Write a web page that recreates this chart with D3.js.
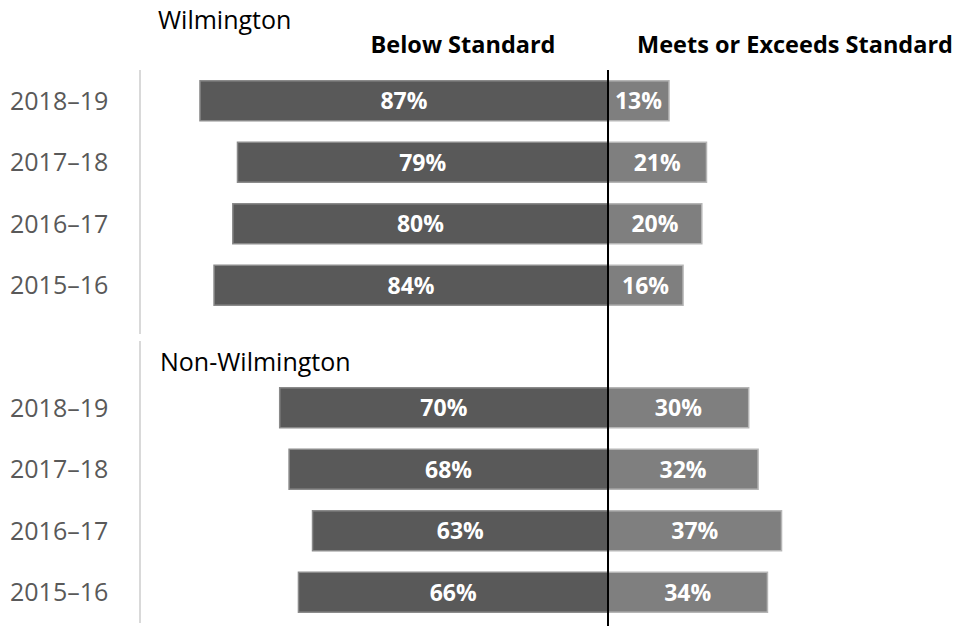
<!DOCTYPE html>
<html>
<head>
<meta charset="utf-8">
<script src="https://cdn.jsdelivr.net/npm/d3@7"></script>
<style>
body { margin: 0; background: #fff; }
text { font-family: "Open Sans", "Noto Sans", sans-serif; }
</style>
</head>
<body>
<div id="canvas"></div>
<script>
var width = 968,
	height = 626;

// data
var years = ["2018–19", "2017–18", "2016–17", "2015–16"];
var groups = ["Wilmington", "Non-Wilmington"];
var wilmBelow = [87, 79, 80, 84];
var wilmMeets = [13, 21, 20, 16];
var nonBelow = [70, 68, 63, 66];
var nonMeets = [30, 32, 37, 34];

var rows = [];
years.forEach(function(y, i){
	rows.push({key: "w" + i, group: groups[0], year: y, below: wilmBelow[i], meets: wilmMeets[i]});
});
years.forEach(function(y, i){
	rows.push({key: "n" + i, group: groups[1], year: y, below: nonBelow[i], meets: nonMeets[i]});
});

var svg = d3.select("#canvas").append("svg")
	.attr("width", width)
	.attr("height", height);

var x = d3.scaleLinear()
	.domain([-100, 100])
	.range([608 - 469, 608 + 469]);

// two bands, one per group
var yW = d3.scaleBand()
	.domain(rows.slice(0, 4).map(function(d){ return d.key; }))
	.range([70, 316])
	.paddingInner(0.35)
	.paddingOuter(0.175);
var yN = d3.scaleBand()
	.domain(rows.slice(4).map(function(d){ return d.key; }))
	.range([377, 623])
	.paddingInner(0.35)
	.paddingOuter(0.175);

function yPos(d){
	return d.group === groups[0] ? yW(d.key) : yN(d.key);
}
var bh = yW.bandwidth();

// left axis lines
svg.append("line")
	.attr("x1", 140).attr("x2", 140)
	.attr("y1", 70).attr("y2", 334)
	.attr("stroke", "#d9d9d9").attr("stroke-width", 2);
svg.append("line")
	.attr("x1", 140).attr("x2", 140)
	.attr("y1", 341).attr("y2", 623)
	.attr("stroke", "#d9d9d9").attr("stroke-width", 2);

var row = svg.selectAll(".row")
	.data(rows)
	.enter()
	.append("g")
	.classed("row", true)
	.attr("transform", function(d){ return "translate(0," + yPos(d) + ")"; });

row.append("rect")
	.attr("x", function(d){ return x(-d.below); })
	.attr("width", function(d){ return x(0) - x(-d.below); })
	.attr("height", bh)
	.attr("fill", "#595959")
	.attr("stroke", "#8a8a8a")
	.attr("stroke-width", 1.5);

row.append("rect")
	.attr("x", x(0))
	.attr("width", function(d){ return x(d.meets) - x(0); })
	.attr("height", bh)
	.attr("fill", "#7f7f7f")
	.attr("stroke", "#b5b5b5")
	.attr("stroke-width", 1.5);

row.append("text")
	.attr("x", function(d){ return (x(-d.below) + x(0)) / 2; })
	.attr("y", bh / 2)
	.attr("dy", "0.36em")
	.attr("text-anchor", "middle")
	.attr("fill", "#fff")
	.attr("font-weight", "bold")
	.attr("font-size", 23)
	.text(function(d){ return d.below + "%"; });

row.append("text")
	.attr("x", function(d){ return (x(d.meets) + x(0)) / 2; })
	.attr("y", bh / 2)
	.attr("dy", "0.36em")
	.attr("text-anchor", "middle")
	.attr("fill", "#fff")
	.attr("font-weight", "bold")
	.attr("font-size", 23)
	.text(function(d){ return d.meets + "%"; });

row.append("text")
	.attr("x", 10)
	.attr("y", bh / 2)
	.attr("dy", "0.36em")
	.attr("fill", "#595959")
	.attr("font-size", 25)
	.text(function(d){ return d.year; });

// center line
svg.append("line")
	.attr("x1", x(0)).attr("x2", x(0))
	.attr("y1", 70).attr("y2", height)
	.attr("stroke", "#000").attr("stroke-width", 2);

// titles
svg.append("text")
	.attr("x", 158).attr("y", 29)
	.attr("font-size", 25)
	.text(groups[0]);
svg.append("text")
	.attr("x", 160).attr("y", 371)
	.attr("font-size", 25)
	.text(groups[1]);
svg.append("text")
	.attr("x", 463).attr("y", 53)
	.attr("text-anchor", "middle")
	.attr("font-weight", "bold")
	.attr("font-size", 23.5)
	.text("Below Standard");
svg.append("text")
	.attr("x", 795).attr("y", 53)
	.attr("text-anchor", "middle")
	.attr("font-weight", "bold")
	.attr("font-size", 23.5)
	.text("Meets or Exceeds Standard");
</script>
</body>
</html>
